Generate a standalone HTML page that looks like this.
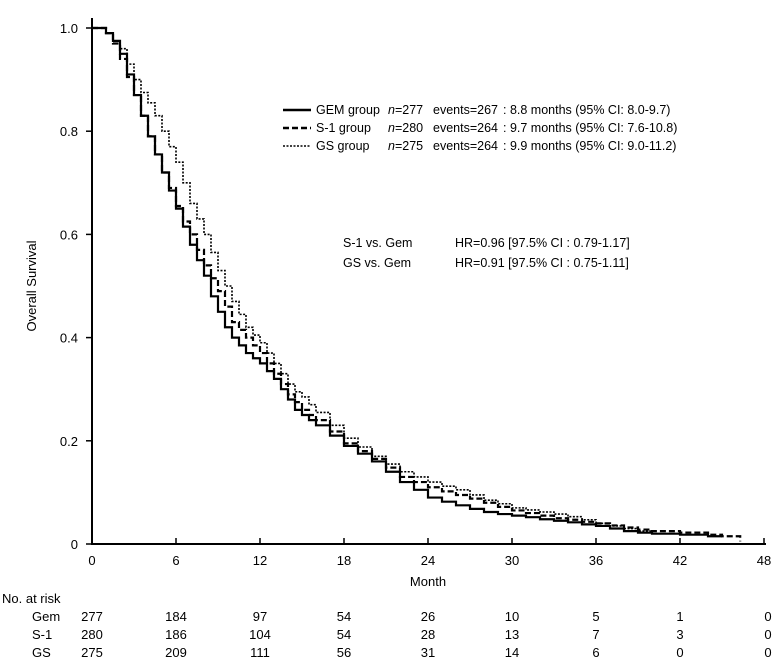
<!DOCTYPE html>
<html><head><meta charset="utf-8"><style>
body{margin:0;background:#fff;}
svg text{font-family:"Liberation Sans",sans-serif;fill:#000;}
</style></head><body>
<svg width="774" height="662" xmlns="http://www.w3.org/2000/svg">
<g id="axes"></g><g id="curves"></g>
<g font-size="12.5">
<line x1="283" y1="110" x2="311" y2="110" stroke="#000" stroke-width="2.5"/>
<line x1="283" y1="128" x2="311" y2="128" stroke="#000" stroke-width="2.5" stroke-dasharray="6,3"/>
<line x1="283" y1="146" x2="311" y2="146" stroke="#000" stroke-width="1.6" stroke-dasharray="2,1.5"/>
<text x="316" y="114">GEM group</text><text x="388" y="114"><tspan font-style="italic">n</tspan>=277</text><text x="433" y="114">events=267</text><text x="503" y="114">: 8.8 months (95% CI: 8.0-9.7)</text>
<text x="316" y="132">S-1 group</text><text x="388" y="132"><tspan font-style="italic">n</tspan>=280</text><text x="433" y="132">events=264</text><text x="503" y="132">: 9.7 months (95% CI: 7.6-10.8)</text>
<text x="316" y="150">GS group</text><text x="388" y="150"><tspan font-style="italic">n</tspan>=275</text><text x="433" y="150">events=264</text><text x="503" y="150">: 9.9 months (95% CI: 9.0-11.2)</text>
</g>
<g font-size="12.5">
<text x="343" y="247">S-1 vs. Gem</text><text x="455" y="247">HR=0.96 [97.5% CI :  0.79-1.17]</text>
<text x="343" y="267">GS  vs. Gem</text><text x="455" y="267">HR=0.91 [97.5% CI :  0.75-1.11]</text>
</g>
<text x="36" y="286" font-size="13" text-anchor="middle" transform="rotate(-90 36 286)">Overall Survival</text>
<text x="428" y="586" font-size="13" text-anchor="middle">Month</text>
<g id="risk" font-size="13"></g>
</svg>
<script>
const xTicks=[0,6,12,18,24,30,36,42,48];
const yTicks=[0,0.2,0.4,0.6,0.8,1.0];
const yTickLabels=["0","0.2","0.4","0.6","0.8","1.0"];
const gemT=[0,0.5,1,1.5,2,2.5,3,3.5,4,4.5,5,5.5,6,6.5,7,7.5,8,8.5,9,9.5,10,10.5,11,11.5,12,12.5,13,13.5,14,14.5,15,15.5,16,17,18,19,20,21,22,23,24,25,26,27,28,29,30,31,32,33,34,35,36,37,38,39,40,42,44,45];
const gemS=[1,1,0.99,0.975,0.95,0.91,0.87,0.83,0.79,0.755,0.72,0.685,0.65,0.615,0.58,0.55,0.52,0.48,0.45,0.42,0.40,0.385,0.37,0.36,0.35,0.335,0.32,0.30,0.28,0.26,0.25,0.24,0.23,0.21,0.19,0.175,0.16,0.14,0.12,0.105,0.09,0.082,0.075,0.068,0.062,0.058,0.055,0.052,0.048,0.045,0.042,0.038,0.035,0.03,0.025,0.022,0.02,0.018,0.015,0.015];
const s1T=[0,0.5,1,1.5,2,2.5,3,3.5,4,4.5,5,5.5,6,6.5,7,7.5,8,8.5,9,9.5,10,10.5,11,11.5,12,12.5,13,13.5,14,14.5,15,15.5,16,17,18,19,20,21,22,23,24,25,26,27,28,29,30,31,32,33,34,35,36,37,38,39,40,42,44,45,46.3];
const s1S=[1,1,0.99,0.97,0.94,0.905,0.87,0.83,0.79,0.755,0.72,0.69,0.655,0.625,0.6,0.57,0.54,0.515,0.49,0.46,0.43,0.415,0.4,0.385,0.37,0.35,0.33,0.31,0.29,0.275,0.26,0.25,0.24,0.218,0.195,0.18,0.165,0.148,0.13,0.12,0.11,0.102,0.095,0.088,0.08,0.072,0.065,0.06,0.055,0.05,0.047,0.043,0.04,0.036,0.032,0.028,0.025,0.022,0.018,0.015,0.005];
const gsT=[0,0.5,1,1.5,2,2.5,3,3.5,4,4.5,5,5.5,6,6.5,7,7.5,8,8.5,9,9.5,10,10.5,11,11.5,12,12.5,13,13.5,14,14.5,15,15.5,16,17,18,19,20,21,22,23,24,25,26,27,28,29,30,31,32,33,34,35,36,37,38,39,40];
const gsS=[1,1,0.99,0.975,0.96,0.93,0.9,0.875,0.855,0.83,0.8,0.77,0.74,0.7,0.66,0.63,0.6,0.565,0.53,0.5,0.47,0.445,0.42,0.405,0.39,0.37,0.35,0.33,0.31,0.295,0.285,0.27,0.255,0.23,0.205,0.188,0.17,0.155,0.14,0.13,0.12,0.112,0.105,0.095,0.085,0.078,0.07,0.066,0.062,0.058,0.053,0.047,0.04,0.035,0.03,0.025,0.02];
const riskGroups=["Gem","S-1","GS"];
const riskGem=[277,184,97,54,26,10,5,1,0];
const riskS1=[280,186,104,54,28,13,7,3,0];
const riskGS=[275,209,111,56,31,14,6,0,0];
const NS="http://www.w3.org/2000/svg";
const X=m=>92+m*(764-92)/48, Y=s=>544-s*(544-28);
function mk(t,a,p){const e=document.createElementNS(NS,t);for(const k in a)e.setAttribute(k,a[k]);(p||document.querySelector('svg')).appendChild(e);return e;}
const ax=document.getElementById('axes');
let e=mk('line',{x1:92,y1:544,x2:766,y2:544,stroke:'#000','stroke-width':2},ax);


e=mk('line',{x1:92,y1:18,x2:92,y2:545,stroke:'#000','stroke-width':2},ax);


xTicks.forEach(m=>{mk('line',{x1:X(m),y1:544,x2:X(m),y2:538,stroke:'#000','stroke-width':1.5},ax);
 const t=mk('text',{x:X(m),y:565,'font-size':13,'text-anchor':'middle'},ax);t.textContent=m;
 
 });
yTicks.forEach((v,i)=>{mk('line',{x1:86,y1:Y(v),x2:92,y2:Y(v),stroke:'#000','stroke-width':1.5},ax);
 const t=mk('text',{x:78,y:Y(v)+5,'font-size':13,'text-anchor':'end'},ax);t.textContent=yTickLabels[i];
 
 });
function step(T,S){let d='M'+X(T[0])+','+Y(S[0]);for(let i=1;i<T.length;i++){d+='H'+X(T[i])+'V'+Y(S[i]);}return d;}
const cv=document.getElementById('curves');
e=mk('path',{d:step(gemT,gemS),fill:'none',stroke:'#000','stroke-width':2.2},cv);


e=mk('path',{d:step(s1T,s1S),fill:'none',stroke:'#000','stroke-width':2.2,'stroke-dasharray':'6,3'},cv);


e=mk('path',{d:step(gsT,gsS),fill:'none',stroke:'#000','stroke-width':1.6,'stroke-dasharray':'2,1.5'},cv);


const rk=document.getElementById('risk');
let h=mk('text',{x:2,y:603},rk);h.textContent='No. at risk';


[riskGem,riskS1,riskGS].forEach((row,r)=>{const y=621+r*18;
 const l=mk('text',{x:32,y:y,'text-anchor':'start'},rk);l.textContent=riskGroups[r];
 
 
 row.forEach((n,i)=>{const t=mk('text',{x:X(xTicks[i])+(i==8?4:0),y:y,'text-anchor':'middle'},rk);t.textContent=n;
 
 });});
</script>
</body></html>
